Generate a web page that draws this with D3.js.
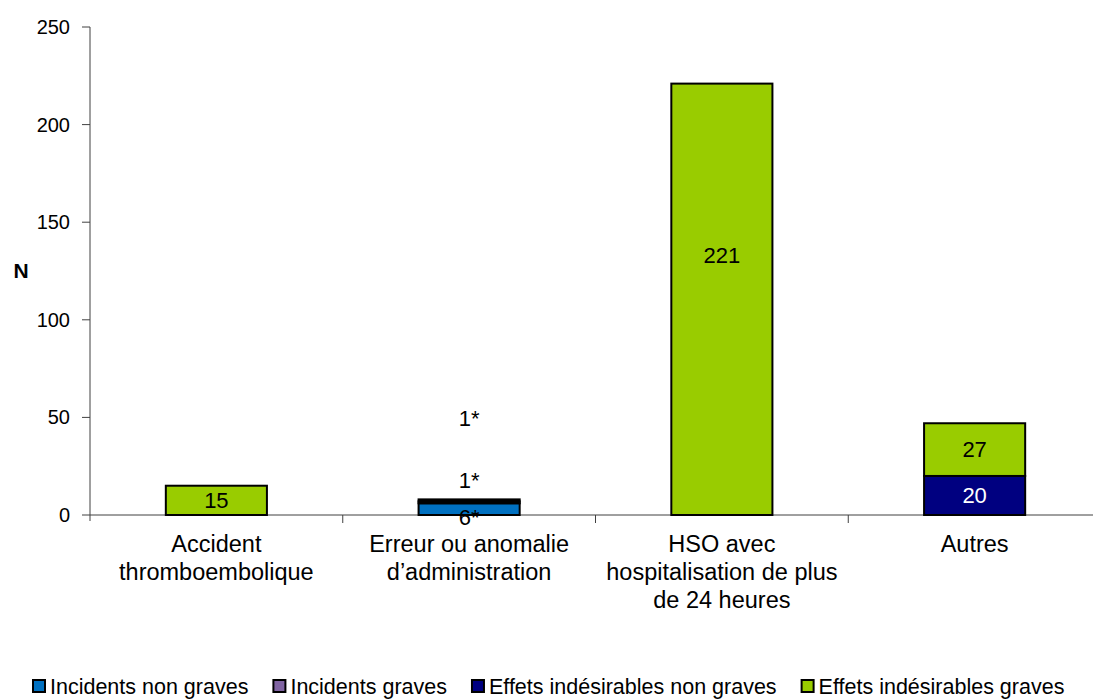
<!DOCTYPE html>
<html>
<head>
<meta charset="utf-8">
<script src="https://cdn.jsdelivr.net/npm/d3@7"></script>
<style>
  body { margin: 0; background: #fff; }
  text { font-family: "Liberation Sans", Arial, sans-serif; fill: #000; }
</style>
</head>
<body>
<div id="chart"></div>
<script>
// categories and stacked series
var categories = ["Accident thromboembolique", "Erreur ou anomalie d’administration",
                  "HSO avec hospitalisation de plus de 24 heures", "Autres"];
var catLines = [["Accident", "thromboembolique"],
                ["Erreur ou anomalie", "d’administration"],
                ["HSO avec", "hospitalisation de plus", "de 24 heures"],
                ["Autres"]];
var seriesNames = ["Incidents non graves", "Incidents graves",
                   "Effets indésirables non graves", "Effets indésirables graves"];
var incidentsNonGraves = [0, 6, 0, 0];
var incidentsGraves    = [0, 1, 0, 0];
var effetsNonGraves    = [0, 1, 0, 20];
var effetsGraves       = [15, 0, 221, 27];
var starred = [false, true, false, false];   // labels shown with "*"
var yTicks = [0, 50, 100, 150, 200, 250];

var colors = ["#0070C0", "#8064A2", "#000080", "#99CC00"];
var labelColors = ["#000", "#000", "#fff", "#000"];

var W = 1093, H = 700;
var svg = d3.select("#chart").append("svg").attr("width", W).attr("height", H);

var x = d3.scaleBand().domain(categories).range([90, 1101])
  .paddingInner(0.6).paddingOuter(0.3);
var y = d3.scaleLinear().domain([0, 250]).range([515, 27]);

var rows = categories.map(function (c, i) {
  return { cat: c, s0: incidentsNonGraves[i], s1: incidentsGraves[i], s2: effetsNonGraves[i], s3: effetsGraves[i] };
});
var stack = d3.stack().keys(["s0", "s1", "s2", "s3"])(rows);

// axes
svg.append("line").attr("x1", 90).attr("x2", W).attr("y1", y(0)).attr("y2", y(0))
  .attr("stroke", "#404040");
svg.append("line").attr("x1", 90).attr("x2", 90).attr("y1", y(250)).attr("y2", y(0) + 6)
  .attr("stroke", "#404040");
yTicks.forEach(function (t) {
  svg.append("line").attr("x1", 82).attr("x2", 90).attr("y1", y(t)).attr("y2", y(t)).attr("stroke", "#404040");
  svg.append("text").attr("x", 70).attr("y", y(t)).attr("dy", "0.35em")
    .attr("text-anchor", "end").style("font-size", "20px").text(t);
});
var step = x.step();
categories.forEach(function (c, i) {
  if (i === 0) return;
  var bx = x(c) - step * 0.3;
  svg.append("line").attr("x1", bx).attr("x2", bx).attr("y1", y(0)).attr("y2", y(0) + 8).attr("stroke", "#404040");
});
svg.append("text").attr("x", 21).attr("y", y(125)).attr("dy", "0.35em").attr("text-anchor", "middle")
  .style("font-size", "21px").style("font-weight", "bold").text("N");

// category labels
categories.forEach(function (c, i) {
  var t = svg.append("text").attr("text-anchor", "middle").style("font-size", "23.5px");
  catLines[i].forEach(function (l, j) {
    t.append("tspan").attr("x", x(c) + x.bandwidth() / 2).attr("y", 552 + j * 28).text(l);
  });
});

// bars
var g = svg.append("g");
stack.forEach(function (layer, k) {
  layer.forEach(function (d, i) {
    if (d[1] - d[0] <= 0) return;
    g.append("rect").attr("x", x(categories[i])).attr("width", x.bandwidth())
      .attr("y", y(d[1])).attr("height", y(d[0]) - y(d[1]))
      .attr("fill", colors[k]).attr("stroke", "#000").attr("stroke-width", 2);
  });
});

// data labels (some were moved by hand in the original)
var nudge = { "1-0": 8, "1-1": -22, "1-2": -82, "2-3": -44 };
stack.forEach(function (layer, k) {
  layer.forEach(function (d, i) {
    var v = d[1] - d[0];
    if (v <= 0) return;
    var cy = (y(d[0]) + y(d[1])) / 2 + (nudge[i + "-" + k] || 0);
    svg.append("text").attr("x", x(categories[i]) + x.bandwidth() / 2).attr("y", cy).attr("dy", "0.35em")
      .attr("text-anchor", "middle").style("font-size", "22px")
      .style("fill", starred[i] ? "#000" : labelColors[k])
      .text(v + (starred[i] ? "*" : ""));
  });
});

// legend
var lx = 33, ly = 686;
seriesNames.forEach(function (n, k) {
  svg.append("rect").attr("x", lx).attr("y", ly - 6).attr("width", 12).attr("height", 12)
    .attr("fill", colors[k]).attr("stroke", "#000").attr("stroke-width", 2);
  var t = svg.append("text").attr("x", lx + 17).attr("y", ly).attr("dy", "0.35em")
    .style("font-size", "21.5px").text(n);
  lx = lx + 17 + t.node().getComputedTextLength() + 25;
});
</script>
</body>
</html>
